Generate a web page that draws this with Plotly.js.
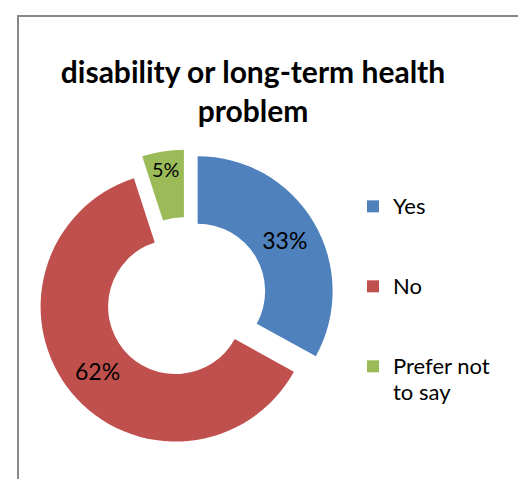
<!DOCTYPE html>
<html>
<head>
<meta charset="utf-8">
<script src="https://cdn.plot.ly/plotly-3.0.1.min.js"></script>
<style>
html,body{margin:0;padding:0;background:#fff;}
#chart{position:absolute;left:0;top:0;width:518px;height:479px;}
#frame{position:absolute;left:17px;top:15px;width:520px;height:480px;border-left:2px solid #888;border-top:2px solid #888;pointer-events:none;}
</style>
</head>
<body>
<div id="chart"></div>
<div id="frame"></div>
<script>
const titleText = "disability or long-term health<br>problem";
const categories = ["Yes", "No", "Prefer not to say"];
const values = [33, 62, 5];
const colors = ["#4F81BD", "#C0504D", "#9BBB59"];
const legendLabels = ["Yes", "No", "Prefer not<br>to say"];

const displayLabels = legendLabels.map(function (t, i) {
  const pad = i < legendLabels.length - 1 ? "<br> <br> " : "";
  return '<span style="font-size:22px">' + t + '</span>' + pad;
});

const trace = {
  type: "pie",
  labels: displayLabels,
  values: values,
  customdata: categories,
  sort: false,
  direction: "clockwise",
  rotation: 0,
  hole: 0.5,
  pull: [0.1, 0.1, 0.1],
  marker: {colors: colors, line: {width: 0}},
  texttemplate: "%{percent:.0%}",
  textposition: "inside",
  insidetextorientation: "horizontal",
  textfont: {family: "Lato, sans-serif", size: 23, color: "#000"},
  hoverinfo: "skip",
  domain: {x: [37.5 / 518, 334.5 / 518], y: [1 - 446.5 / 479, 1 - 149.5 / 479]}
};

const layout = {
  width: 518,
  height: 479,
  margin: {l: 0, r: 0, t: 0, b: 0},
  paper_bgcolor: "rgba(0,0,0,0)",
  plot_bgcolor: "rgba(0,0,0,0)",
  showlegend: true,
  title: {
    text: "<b>" + titleText + "</b>",
    font: {family: "Lato, sans-serif", size: 30, color: "#000"},
    x: 253 / 518, xanchor: "center",
    y: 1 - 83 / 479, yanchor: "top"
  },
  legend: {
    x: 353 / 518, xanchor: "left",
    y: 1 - 187 / 479, yanchor: "top",
    valign: "top",
    font: {family: "Lato, sans-serif", size: 19.74, color: "#000"},
    bgcolor: "rgba(0,0,0,0)"
  }
};

Plotly.newPlot("chart", [trace], layout, {displayModeBar: false, staticPlot: true});
</script>
</body>
</html>
